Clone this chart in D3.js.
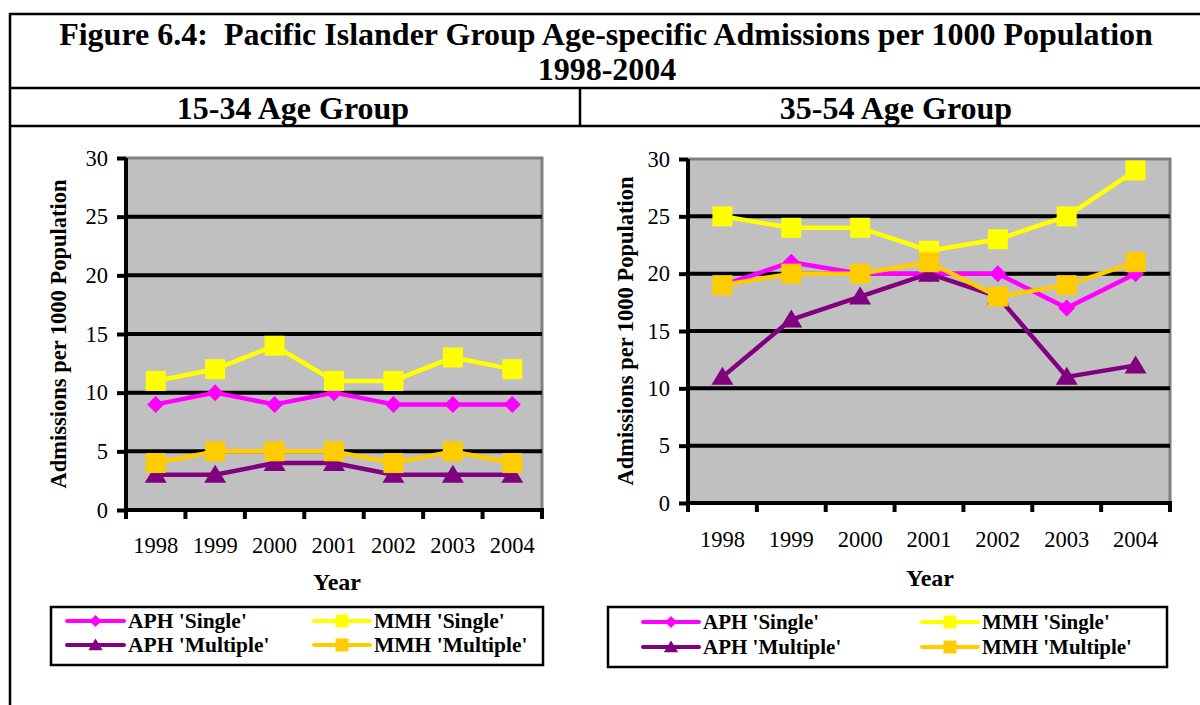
<!DOCTYPE html>
<html>
<head>
<meta charset="utf-8">
<script src="https://cdn.jsdelivr.net/npm/d3@7"></script>
<style>
  html, body { margin: 0; padding: 0; background: #fff; }
  svg { display: block; }
  text { font-family: "Liberation Serif", "Times New Roman", serif; fill: #000; }
</style>
</head>
<body>
<svg id="fig" width="1200" height="705"></svg>
<script>
// Categories and tick values
const years = ["1998", "1999", "2000", "2001", "2002", "2003", "2004"];
const yTicks = [0, 5, 10, 15, 20, 25, 30];
const seriesNames = ["APH 'Single'", "MMH 'Single'", "APH 'Multiple'", "MMH 'Multiple'"];

// 15-34 age group: admissions per 1000 population
const aphSingle1534   = [9, 10, 9, 10, 9, 9, 9];
const mmhSingle1534   = [11, 12, 14, 11, 11, 13, 12];
const aphMultiple1534 = [3, 3, 4, 4, 3, 3, 3];
const mmhMultiple1534 = [4, 5, 5, 5, 4, 5, 4];

// 35-54 age group: admissions per 1000 population
const aphSingle3554   = [19, 21, 20, 20, 20, 17, 20];
const mmhSingle3554   = [25, 24, 24, 22, 23, 25, 29];
const aphMultiple3554 = [11, 16, 18, 20, 18, 11, 12];
const mmhMultiple3554 = [19, 20, 20, 21, 18, 19, 21];

const seriesStyle = [
  { color: "#FF00FF", marker: "diamond" },
  { color: "#FFFF00", marker: "square" },
  { color: "#800080", marker: "triangle" },
  { color: "#FFCC00", marker: "square" }
];

const svg = d3.select("#fig");

// ---- surrounding table ----
const grid = svg.append("g").attr("stroke", "#000").attr("stroke-width", 2.5);
grid.append("line").attr("x1", 9).attr("x2", 1200).attr("y1", 14).attr("y2", 14);
grid.append("line").attr("x1", 9).attr("x2", 1200).attr("y1", 88).attr("y2", 88);
grid.append("line").attr("x1", 9).attr("x2", 1200).attr("y1", 126).attr("y2", 126);
grid.append("line").attr("x1", 10).attr("x2", 10).attr("y1", 13).attr("y2", 705);
grid.append("line").attr("x1", 580).attr("x2", 580).attr("y1", 88).attr("y2", 126);

const titleG = svg.append("g").attr("font-weight", "bold").attr("text-anchor", "middle").attr("font-size", 32);
titleG.append("text").attr("x", 606).attr("y", 45)
  .text("Figure 6.4:\u00A0 Pacific Islander Group Age-specific Admissions per 1000 Population");
titleG.append("text").attr("x", 607).attr("y", 80).text("1998-2004");
titleG.append("text").attr("x", 293).attr("y", 119).text("15-34 Age Group");
titleG.append("text").attr("x", 896).attr("y", 119).text("35-54 Age Group");

// ---- marker shapes ----
function markerPath(type, s) {
  if (type === "diamond") return `M0,${-s}L${s},0L0,${s}L${-s},0Z`;
  if (type === "triangle") return `M0,${-s}L${s * 1.1},${s * 0.8}L${-s * 1.1},${s * 0.8}Z`;
  return `M${-s},${-s}H${s}V${s}H${-s}Z`;
}
const markerSize = { diamond: 8.5, triangle: 10, square: 10 };

function drawPanel(opts) {
  const { left, right, top, bottom, data } = opts;
  const g = svg.append("g");

  const x = d3.scaleBand().domain(years).range([left, right]);
  const y = d3.scaleLinear().domain([0, 30]).range([bottom, top]);

  // plot area with shaded top/right frame
  g.append("rect").attr("x", left).attr("y", top).attr("width", right - left).attr("height", bottom - top)
    .attr("fill", "#C0C0C0");
  g.append("path").attr("d", `M${left},${top}H${right}V${bottom}`)
    .attr("fill", "none").attr("stroke", "#808080").attr("stroke-width", 3);

  // horizontal gridlines
  g.selectAll("line.grid").data(yTicks.filter(t => t > 0 && t < 30)).join("line")
    .attr("class", "grid")
    .attr("x1", left).attr("x2", right)
    .attr("y1", d => y(d)).attr("y2", d => y(d))
    .attr("stroke", "#000").attr("stroke-width", 4);

  // y axis
  const yAxis = d3.axisLeft(y).tickValues(yTicks).tickSize(9).tickPadding(9).tickFormat(d3.format("d"));
  const ya = g.append("g").attr("transform", `translate(${left},0)`).call(yAxis);
  ya.select(".domain").attr("stroke", "#000").attr("stroke-width", 4).attr("d", `M0,${top}V${bottom + 2}`);
  ya.selectAll(".tick line").attr("stroke", "#000").attr("stroke-width", 4);
  ya.selectAll(".tick text").attr("font-size", 22.5).attr("font-family", "Liberation Serif, serif").attr("fill", "#000");

  // x axis with ticks at category boundaries
  const xa = g.append("g").attr("transform", `translate(0,${bottom})`);
  xa.append("line").attr("x1", left - 2).attr("x2", right + 2).attr("stroke", "#000").attr("stroke-width", 4);
  const bounds = years.map(d => x(d)).concat([right]);
  xa.selectAll("line.tk").data(bounds).join("line").attr("class", "tk")
    .attr("x1", d => d).attr("x2", d => d).attr("y1", 0).attr("y2", 9)
    .attr("stroke", "#000").attr("stroke-width", 4);
  xa.selectAll("text").data(years).join("text")
    .attr("x", d => x(d) + x.bandwidth() / 2).attr("y", opts.xLabelY - bottom)
    .attr("text-anchor", "middle").attr("font-size", 22.5).text(d => d);

  // axis titles
  g.append("text").attr("x", opts.xTitleX).attr("y", opts.xTitleY)
    .attr("text-anchor", "middle").attr("font-weight", "bold").attr("font-size", 24).text("Year");
  g.append("text").attr("transform", `translate(${opts.yTitleX},${opts.yTitleMid}) rotate(-90)`)
    .attr("text-anchor", "middle").attr("font-weight", "bold").attr("font-size", 22.5)
    .text("Admissions per 1000 Population");

  // series
  const line = d3.line().x((d, i) => x(years[i]) + x.bandwidth() / 2).y(d => y(d));
  data.forEach((vals, si) => {
    const st = seriesStyle[si];
    const sg = g.append("g");
    sg.append("path").attr("d", line(vals)).attr("fill", "none")
      .attr("stroke", st.color).attr("stroke-width", 4.5).attr("stroke-linejoin", "round");
    sg.selectAll("path.mk").data(vals).join("path").attr("class", "mk")
      .attr("transform", (d, i) => `translate(${x(years[i]) + x.bandwidth() / 2},${y(d)})`)
      .attr("d", markerPath(st.marker, markerSize[st.marker]))
      .attr("fill", st.color);
  });

  // legend
  const lg = svg.append("g");
  const L = opts.legend;
  lg.append("rect").attr("x", L.x).attr("y", L.y).attr("width", L.w).attr("height", L.h)
    .attr("fill", "#fff").attr("stroke", "#000").attr("stroke-width", 2.5);
  seriesNames.forEach((name, si) => {
    const col = si % 2, row = Math.floor(si / 2);
    const st = seriesStyle[si];
    const x0 = L.cols[col][0], x1 = L.cols[col][1];
    const ly = L.rows[row];
    lg.append("line").attr("x1", x0).attr("x2", x1).attr("y1", ly).attr("y2", ly)
      .attr("stroke", st.color).attr("stroke-width", 4).attr("stroke-linecap", "round");
    lg.append("path").attr("transform", `translate(${(x0 + x1) / 2},${ly})`)
      .attr("d", markerPath(st.marker, st.marker === "diamond" ? 6 : 6.5)).attr("fill", st.color);
    lg.append("text").attr("x", x1 + 4).attr("y", ly + 7)
      .attr("font-weight", "bold").attr("font-size", L.fs).text(name);
  });
}

drawPanel({
  left: 126, right: 542, top: 158, bottom: 510,
  xLabelY: 553, xTitleX: 337, xTitleY: 590, yTitleX: 66, yTitleMid: 334,
  data: [aphSingle1534, mmhSingle1534, aphMultiple1534, mmhMultiple1534],
  legend: { x: 51, y: 607, w: 492, h: 58, rows: [621, 645], cols: [[67, 124], [314, 370]], fs: 21.5 }
});

drawPanel({
  left: 688, right: 1170, top: 159, bottom: 503,
  xLabelY: 547, xTitleX: 930, xTitleY: 586, yTitleX: 633, yTitleMid: 331,
  data: [aphSingle3554, mmhSingle3554, aphMultiple3554, mmhMultiple3554],
  legend: { x: 608, y: 607, w: 559, h: 60, rows: [622, 647], cols: [[643, 699], [922, 978]], fs: 21 }
});
</script>
</body>
</html>
